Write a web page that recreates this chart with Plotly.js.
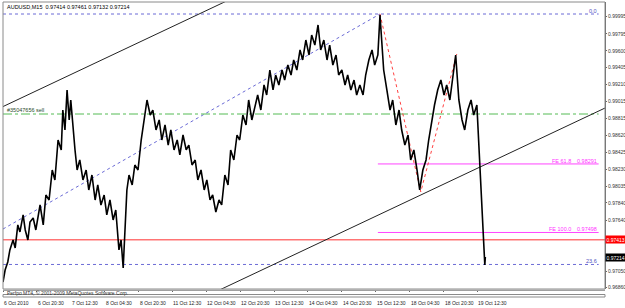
<!DOCTYPE html>
<html><head><meta charset="utf-8">
<script src="https://cdn.plot.ly/plotly-3.0.1.min.js"></script>
<style>html,body{margin:0;padding:0;background:#fff}#chart{width:625px;height:308px}</style>
</head><body><div id="chart"></div>
<script>
const barIndex = [0,4,9,13,19,23,28,32,38,42,47,51,57,62,70,76,81,87,93,98,104,110,113,117,121,125,128,132,136,140,145,151,157,162,168,174,179,185,191,196,202,208,213,219,223,227,230,234,238,244,249,255,261,266,272,278,283,289,295,300,306,312,317,323,329,334,340,346,351,357,363,368,374,380,385,391,396,402,408,413,419,425,430,436,442,447,453,459,464,470,476,481,487,493,498,504,510,515,521,527,532,538,544,549,555,561,566,572,578,583,589,595,600,606,612,617,623,629,634,640,646,651,657,663,668,674,680,685,691,697,702,708,712,716,719,725,731,736,742,748,753,759,765,770,776,782,787,793,799,804,810,815,821,827,833,838,844,850,855,861,867,872,878,884,889,895,899,902,906,910,911];
const price = [0.96925,0.97064,0.97157,0.97296,0.97411,0.97319,0.97585,0.97504,0.97701,0.97527,0.97411,0.97619,0.97666,0.97527,0.97816,0.97585,0.97932,0.97874,0.98221,0.98106,0.98568,0.98453,0.98915,0.98684,0.99147,0.98800,0.99031,0.98684,0.98453,0.98221,0.98337,0.98106,0.98221,0.97990,0.98163,0.97874,0.98048,0.97816,0.97932,0.97701,0.97874,0.97643,0.97758,0.97296,0.97411,0.97087,0.97469,0.97990,0.98163,0.98048,0.98279,0.98221,0.98568,0.98800,0.99031,0.98857,0.98915,0.98684,0.98800,0.98568,0.98742,0.98510,0.98684,0.98453,0.98568,0.98395,0.98626,0.98453,0.98510,0.98279,0.98337,0.98106,0.98221,0.97990,0.98106,0.97874,0.97932,0.97735,0.97874,0.97816,0.98163,0.98048,0.98453,0.98337,0.98626,0.98568,0.98857,0.98742,0.99031,0.98800,0.98973,0.99089,0.98915,0.99205,0.99089,0.99378,0.99147,0.99320,0.99205,0.99378,0.99262,0.99436,0.99320,0.99494,0.99378,0.99610,0.99494,0.99725,0.99552,0.99783,0.99667,0.99899,0.99610,0.99725,0.99494,0.99667,0.99436,0.99552,0.99320,0.99378,0.99205,0.99320,0.99147,0.99262,0.99089,0.99205,0.99089,0.99320,0.99494,0.99610,0.99436,0.99552,1.00014,0.99610,0.99378,0.99147,0.98915,0.99031,0.98742,0.98915,0.98684,0.98510,0.98626,0.98337,0.98453,0.98221,0.97990,0.98221,0.98337,0.98568,0.98800,0.98973,0.99147,0.99262,0.99089,0.99205,0.99031,0.99320,0.99552,0.99031,0.98800,0.98684,0.98915,0.99031,0.98857,0.98973,0.98453,0.97990,0.97527,0.97122,0.97214];

const dateTickBars = [0,64,128,192,256,320,384,448,512,576,640,704,768,832,896];
const dateTickLabels = ['6 Oct 2010','6 Oct 20:30','7 Oct 12:30','8 Oct 04:30','8 Oct 20:30','11 Oct 12:30','12 Oct 04:30','12 Oct 20:30','13 Oct 12:30','14 Oct 04:30','14 Oct 20:30','15 Oct 12:30','18 Oct 04:30','18 Oct 20:30','19 Oct 12:30'];
const priceTicks = [0.99995,0.99795,0.99600,0.99405,0.99210,0.99015,0.98815,0.98620,0.98425,0.98230,0.98035,0.97840,0.97640,0.97050,0.96860];

const titleText = 'AUDUSD,M15  0.97414 0.97461 0.97132 0.97214';
const sellLevel = 0.98869, sellLabel = '#35047656 sell';
const redLevel = 0.97413, lastPrice = 0.97214;
const fiboLevels = [1.00026, 0.97128], fiboLabels = ['0.0', '23.6'];
const fiboAnchorBars = [0, 712], fiboAnchorPrices = [0.97538, 1.00026];
const expBars = [712, 789, 857], expPrices = [1.00026, 0.97967, 0.99563];
const feLevels = [0.98291, 0.97498], feNames = ['FE 61.8', 'FE 100.0'];
const feStartBar = 708;
const chanUpperBars = [0, 466], chanUpperPrices = [0.98955, 1.00303];
const chanLowerBars = [380, 1137], chanLowerPrices = [0.96749, 0.98938];
const subText = 'Perfpo MT4, © 2001-2009 MetaQuotes Software Corp.';

const X0 = 0, X1 = 1137;
const F = 'Liberation Sans, Arial, sans-serif';
const H = 308 - 2 - 11;            // plot height (y 2..297)
const mainBottom = (297-289)/H;

function hline(y, color, dash, x0) {
  return {x:[x0===undefined?X0:x0, X1-12], y:[y,y], mode:'lines', xaxis:'x', yaxis:'y',
    line:{color:color, width:1, dash:dash}, hoverinfo:'skip', showlegend:false};
}
const traces = [
  hline(fiboLevels[0], '#6b6bd6', 'dot'),
  hline(fiboLevels[1], '#6b6bd6', 'dot'),
  {x:fiboAnchorBars, y:fiboAnchorPrices, mode:'lines', line:{color:'#6b6bd6', width:1, dash:'dot'}, showlegend:false},
  hline(sellLevel, '#55bb55', 'dashdot'),
  {x:[X0, X1], y:[redLevel, redLevel], mode:'lines', line:{color:'#ff3030', width:1}, showlegend:false},
  hline(feLevels[0], '#ff44ff', 'solid', feStartBar),
  hline(feLevels[1], '#ff44ff', 'solid', feStartBar),
  {x:expBars, y:expPrices, mode:'lines', line:{color:'#ff4040', width:1, dash:'dot'}, showlegend:false},
  {x:chanUpperBars, y:chanUpperPrices, mode:'lines', line:{color:'#222', width:1}, showlegend:false},
  {x:chanLowerBars, y:chanLowerPrices, mode:'lines', line:{color:'#222', width:1}, showlegend:false},
  {x:barIndex, y:price, mode:'lines', line:{color:'#000', width:1.6}, showlegend:false}
];

const annotations = [
  {xref:'paper', yref:'paper', x:0.004, y:0.999, xanchor:'left', yanchor:'top', text:titleText, showarrow:false, font:{family:F, size:5.5, color:'#000'}},
  {xref:'x', yref:'y', x:X0+3, y:sellLevel, xanchor:'left', yanchor:'bottom', yshift:-1, text:sellLabel, showarrow:false, font:{family:F, size:5.5, color:'#2c4a2c'}},
  {xref:'x', yref:'y', x:X1-12, y:fiboLevels[0], xanchor:'right', yanchor:'bottom', yshift:-2, text:fiboLabels[0], showarrow:false, font:{family:F, size:5.5, color:'#5050c0'}},
  {xref:'x', yref:'y', x:X1-12, y:fiboLevels[1], xanchor:'right', yanchor:'bottom', yshift:-2, text:fiboLabels[1], showarrow:false, font:{family:F, size:5.5, color:'#5050c0'}},
  {xref:'x', yref:'y', x:X1-60, y:feLevels[0], xanchor:'right', yanchor:'bottom', yshift:-2, text:feNames[0], showarrow:false, font:{family:F, size:5.5, color:'#ff33ff'}},
  {xref:'x', yref:'y', x:X1-12, y:feLevels[0], xanchor:'right', yanchor:'bottom', yshift:-2, text:feLevels[0].toFixed(5), showarrow:false, font:{family:F, size:5.5, color:'#ff33ff'}},
  {xref:'x', yref:'y', x:X1-60, y:feLevels[1], xanchor:'right', yanchor:'bottom', yshift:-2, text:feNames[1], showarrow:false, font:{family:F, size:5.5, color:'#ff33ff'}},
  {xref:'x', yref:'y', x:X1-12, y:feLevels[1], xanchor:'right', yanchor:'bottom', yshift:-2, text:feLevels[1].toFixed(5), showarrow:false, font:{family:F, size:5.5, color:'#ff33ff'}},
  {xref:'paper', yref:'y', x:1, y:redLevel, xanchor:'left', yanchor:'middle', xshift:0, text:redLevel.toFixed(5), showarrow:false, bgcolor:'#ff0000', borderpad:0.5, font:{family:F, size:5, color:'#fff'}},
  {xref:'paper', yref:'y', x:1, y:lastPrice, xanchor:'left', yanchor:'middle', xshift:0, text:lastPrice.toFixed(5), showarrow:false, bgcolor:'#000', borderpad:0.5, font:{family:F, size:5, color:'#fff'}},
  {xref:'paper', yref:'paper', x:0.004, y:mainBottom*0.5, xanchor:'left', yanchor:'middle', text:subText, showarrow:false, font:{family:F, size:5, color:'#333'}}
];
// date labels: left-aligned right after their tick, below the indicator window
dateTickBars.forEach((b, i) => annotations.push({xref:'x', yref:'paper', x:b, y:0, xanchor:'left', yanchor:'top',
  yshift:-1, xshift:-1, text:dateTickLabels[i], showarrow:false, font:{family:F, size:5, color:'#222'}}));

const shapes = [
  {type:'rect', xref:'paper', yref:'paper', x0:0, x1:1, y0:mainBottom, y1:1, line:{color:'#8a8a8a', width:1}},
  {type:'line', xref:'paper', yref:'paper', x0:0, x1:1, y0:mainBottom-1.2/H, y1:mainBottom-1.2/H, line:{color:'#a0a0a0', width:1.5}},
  {type:'rect', xref:'paper', yref:'paper', x0:0, x1:1, y0:0, y1:2.5/H, line:{color:'#8a8a8a', width:1}}
];

const layout = {
  width:625, height:308, margin:{l:3, r:20, t:2, b:11},
  paper_bgcolor:'#fff', plot_bgcolor:'#fff', showlegend:false,
  font:{family:F, size:5, color:'#333'},
  xaxis:{range:[X0, X1], anchor:'y2', showgrid:false, zeroline:false, showline:false,
    tickvals:dateTickBars, showticklabels:false, ticks:'outside', ticklen:2, tickcolor:'#666'},
  yaxis:{domain:[mainBottom, 1], range:[0.96844, 1.00165], side:'right', showgrid:false, zeroline:false,
    showline:true, linecolor:'#666', tickvals:priceTicks, ticktext:priceTicks.map(v=>v.toFixed(5)),
    ticks:'outside', ticklen:1, tickcolor:'#666', automargin:false, tickfont:{family:F, size:5, color:'#333'}},
  yaxis2:{domain:[0, mainBottom*0.96], range:[0,1], side:'right', showgrid:false, zeroline:false, showline:true,
    linecolor:'#666', showticklabels:false, ticks:''},
  shapes:shapes, annotations:annotations
};
Plotly.newPlot('chart', traces, layout, {staticPlot:true, displayModeBar:false});
</script></body></html>
